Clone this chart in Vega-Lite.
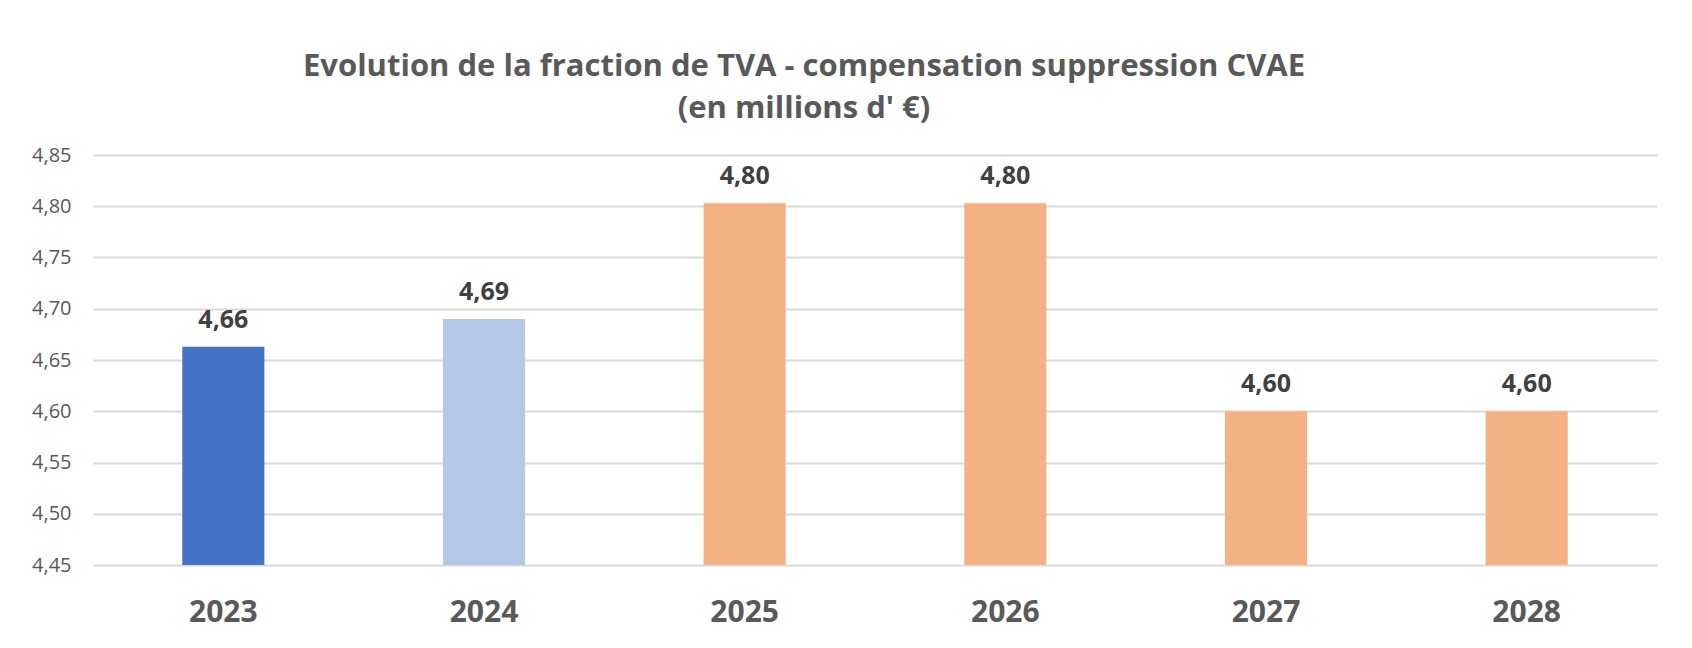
{
  "$schema": "https://vega.github.io/schema/vega-lite/v6.json",
  "width": 1564,
  "height": 410,
  "autosize": {"type": "none"},
  "padding": {"left": 93, "top": 155, "right": 35, "bottom": 83},
  "background": "white",
  "config": {
    "locale": {"number": {"decimal": ",", "thousands": " ", "grouping": [3], "currency": ["", " €"]}},
    "view": {"stroke": null},
    "font": "Open Sans"
  },
  "title": {
    "text": ["Evolution de la fraction de TVA - compensation suppression CVAE", "(en millions d' €)"],
    "font": "Open Sans",
    "fontSize": 31,
    "fontWeight": "bold",
    "color": "#595959",
    "lineHeight": 42,
    "anchor": "middle",
    "dx": -71,
    "offset": 20
  },
  "data": {
    "values": [
      {"annee": "2023", "valeur": 4.663, "serie": "a"},
      {"annee": "2024", "valeur": 4.69, "serie": "b"},
      {"annee": "2025", "valeur": 4.803, "serie": "c"},
      {"annee": "2026", "valeur": 4.803, "serie": "c"},
      {"annee": "2027", "valeur": 4.6, "serie": "c"},
      {"annee": "2028", "valeur": 4.6, "serie": "c"}
    ]
  },
  "encoding": {
    "x": {
      "field": "annee",
      "type": "ordinal",
      "scale": {"paddingInner": 0.685, "paddingOuter": 0.3425},
      "axis": {
        "title": null,
        "domain": false,
        "ticks": false,
        "labelAngle": 0,
        "labelFont": "Open Sans",
        "labelFontSize": 30,
        "labelFontWeight": "bold",
        "labelColor": "#595959",
        "labelPadding": 32
      }
    }
  },
  "layer": [
    {
      "mark": {"type": "bar", "clip": false},
      "encoding": {
        "y": {
          "field": "valeur",
          "type": "quantitative",
          "scale": {"domain": [4.45, 4.85], "zero": false, "nice": false},
          "axis": {
            "title": null,
            "values": [4.45, 4.5, 4.55, 4.6, 4.65, 4.7, 4.75, 4.8, 4.85],
            "format": ".2f",
            "domain": false,
            "ticks": false,
            "labelFont": "Open Sans",
            "labelFontSize": 20,
            "labelColor": "#595959",
            "labelPadding": 22,
            "gridColor": "#D9D9D9",
            "gridWidth": 2
          }
        },
        "y2": {"datum": 4.45},
        "color": {
          "field": "serie",
          "type": "nominal",
          "scale": {"domain": ["a", "b", "c"], "range": ["#4472C4", "#B4C7E7", "#F4B183"]},
          "legend": null
        }
      }
    },
    {
      "mark": {"type": "text", "baseline": "alphabetic", "dy": -19, "font": "Open Sans", "fontSize": 25, "fontWeight": "bold", "color": "#404040"},
      "encoding": {
        "y": {"field": "valeur", "type": "quantitative"},
        "text": {"field": "valeur", "type": "quantitative", "format": ".2f"}
      }
    }
  ]
}
